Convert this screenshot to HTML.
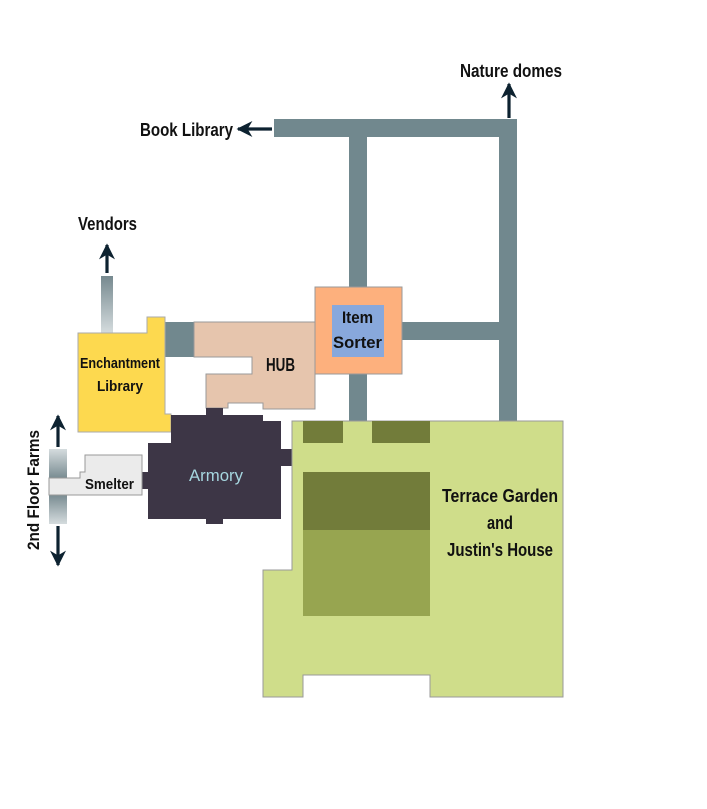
<!DOCTYPE html>
<html><head><meta charset="utf-8"><style>
html,body{margin:0;padding:0;background:#fff;}
svg{display:block;}
text{font-family:"Liberation Sans",sans-serif;font-weight:bold;fill:#111;}
</style></head><body>
<svg width="707" height="809" viewBox="0 0 707 809" xmlns="http://www.w3.org/2000/svg">
<defs>
<linearGradient id="pg" x1="0" y1="0" x2="0" y2="1">
<stop offset="0" stop-color="#76898f"/><stop offset="1" stop-color="#d5dcde"/></linearGradient>
<linearGradient id="pg2" x1="0" y1="0" x2="0" y2="1">
<stop offset="0" stop-color="#d5dcde"/><stop offset="1" stop-color="#76898f"/></linearGradient>
<marker id="ah" viewBox="0 0 10 10" refX="9" refY="5" markerWidth="5" markerHeight="5" orient="auto">
<path d="M0,0 L10,5 L0,10 L3,5 Z" fill="#0d2230"/></marker>
</defs>
<g fill="#71888e">
<rect x="274" y="119" width="243" height="18"/>
<rect x="349" y="137" width="18" height="150"/>
<rect x="349" y="374" width="18" height="47"/>
<rect x="499" y="137" width="18" height="284"/>
<rect x="402" y="322" width="97" height="18"/>
<rect x="165" y="322" width="29" height="35"/>
</g>
<rect x="101" y="276" width="12" height="57" fill="url(#pg)"/>
<g stroke="#0d2230" stroke-width="3.2" marker-end="url(#ah)">
<line x1="509" y1="118" x2="509" y2="84"/>
<line x1="272" y1="129" x2="238" y2="129"/>
<line x1="107" y1="273" x2="107" y2="245"/>
<line x1="58" y1="447" x2="58" y2="416"/>
<line x1="58" y1="526" x2="58" y2="565"/>
</g>
<polygon points="78,333 147,333 147,317 165,317 165,414 171,414 171,432 78,432" fill="#fdd94f" stroke="#aaa" stroke-width="1"/>
<polygon points="194,322 315,322 315,409 263,409 263,403 228,403 228,408 206,408 206,374 252,374 252,357 194,357" fill="#e6c5ad" stroke="#999" stroke-width="1"/>
<rect x="315" y="287" width="87" height="87" fill="#fdb07d" stroke="#999" stroke-width="1"/>
<rect x="332" y="305" width="52" height="52" fill="#88a8dc"/>
<rect x="142" y="472" width="8" height="17" fill="#3d3646"/>
<rect x="279" y="449" width="14" height="17" fill="#3d3646"/>
<polygon points="206,408 223,408 223,415 263,415 263,421 281,421 281,519 223,519 223,524 206,524 206,519 148,519 148,443 171,443 171,415 206,415" fill="#3d3646"/>
<rect x="49" y="449" width="18" height="30" fill="url(#pg2)"/>
<rect x="49" y="494" width="18" height="30" fill="url(#pg)"/>
<polygon points="49,478 80,478 80,472 85,472 85,455 142,455 142,495 49,495" fill="#ebebeb" stroke="#999" stroke-width="1"/>
<polygon points="292,421 563,421 563,697 430,697 430,675 303,675 303,697 263,697 263,570 292,570" fill="#cfdd8a" stroke="#999" stroke-width="1"/>
<rect x="303" y="421" width="40" height="22" fill="#727c3a"/>
<rect x="372" y="421" width="58" height="22" fill="#727c3a"/>
<rect x="303" y="472" width="127" height="58" fill="#727c3a"/>
<rect x="303" y="530" width="127" height="86" fill="#97a550"/>
<g lengthAdjust="spacingAndGlyphs">
<text x="460" y="77" font-size="18" textLength="102" lengthAdjust="spacingAndGlyphs">Nature domes</text>
<text x="140" y="136" font-size="18" textLength="93" lengthAdjust="spacingAndGlyphs">Book Library</text>
<text x="78" y="230" font-size="18" textLength="59" lengthAdjust="spacingAndGlyphs">Vendors</text>
<text x="80" y="368" font-size="15" textLength="80" lengthAdjust="spacingAndGlyphs">Enchantment</text>
<text x="97" y="391" font-size="15" textLength="46" lengthAdjust="spacingAndGlyphs">Library</text>
<text x="266" y="371" font-size="18" textLength="29" lengthAdjust="spacingAndGlyphs">HUB</text>
<text x="342" y="323" font-size="17" textLength="31" lengthAdjust="spacingAndGlyphs">Item</text>
<text x="333" y="348" font-size="17" textLength="49" lengthAdjust="spacingAndGlyphs">Sorter</text>
<text x="85" y="489" font-size="15" textLength="49" lengthAdjust="spacingAndGlyphs">Smelter</text>
<text x="189" y="481" font-size="17" textLength="54" lengthAdjust="spacingAndGlyphs" style="font-weight:normal;fill:#a6d6df">Armory</text>
<text x="442" y="502" font-size="18" textLength="116" lengthAdjust="spacingAndGlyphs">Terrace Garden</text>
<text x="487" y="529" font-size="18" textLength="26" lengthAdjust="spacingAndGlyphs">and</text>
<text x="447" y="556" font-size="18" textLength="106" lengthAdjust="spacingAndGlyphs">Justin's House</text>
<text transform="translate(39,550) rotate(-90)" font-size="17" textLength="120" lengthAdjust="spacingAndGlyphs">2nd Floor Farms</text>
</g>
</svg>
</body></html>
